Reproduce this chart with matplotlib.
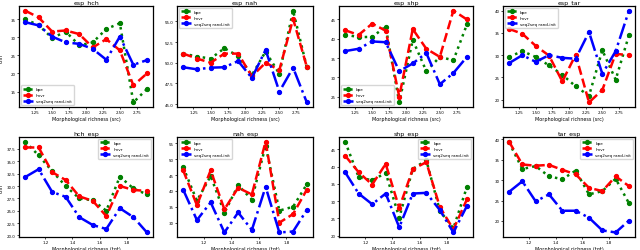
import numpy as np
import matplotlib
matplotlib.use('Agg')
import matplotlib.pyplot as plt
from matplotlib.ticker import MultipleLocator

# x values (morphological richness)
x_src = [1.1, 1.3, 1.5, 1.7, 1.9, 2.1, 2.3, 2.5, 2.7, 2.9]
x_tgt = [1.05, 1.15, 1.25, 1.35, 1.45, 1.55, 1.65, 1.75, 1.85, 1.95]

# esp -> X
esp_hch_bpe = [35.0, 33.4, 29.8, 31.6, 27.8, 28.6, 32.3, 33.9, 12.0, 15.7]
esp_hch_lmvr = [37.4, 35.5, 31.6, 31.9, 30.9, 27.2, 29.5, 26.4, 16.7, 20.0]
esp_hch_seq = [34.2, 33.3, 30.2, 28.6, 28.2, 26.8, 23.8, 30.2, 22.4, 23.7]

esp_nah_bpe = [51.1, 50.75, 50.5, 51.75, 50.8, 48.5, 51.35, 48.65, 56.3, 49.45]
esp_nah_lmvr = [51.1, 50.5, 50.0, 51.1, 51.1, 48.35, 50.0, 49.1, 55.3, 49.5]
esp_nah_seq = [49.45, 49.2, 49.4, 49.45, 50.2, 48.15, 51.55, 46.5, 49.4, 45.2]

esp_shp_bpe = [41.1, 40.4, 40.5, 43.1, 23.5, 39.7, 31.6, 35.3, 34.4, 43.7]
esp_shp_lmvr = [42.2, 41.0, 43.9, 42.1, 25.0, 42.5, 37.4, 35.3, 47.3, 45.0]
esp_shp_seq = [36.8, 37.4, 39.3, 39.1, 31.6, 33.6, 36.3, 28.2, 31.1, 35.3]

esp_tar_bpe = [29.6, 30.9, 29.6, 27.7, 25.6, 23.0, 20.9, 31.1, 24.5, 34.5]
esp_tar_lmvr = [35.9, 34.8, 32.1, 29.9, 24.1, 30.1, 19.4, 22.2, 30.3, 30.0]
esp_tar_seq = [28.2, 30.0, 28.5, 30.0, 29.4, 29.2, 35.2, 25.8, 30.9, 40.0]

# X -> esp
hch_esp_bpe = [39.0, 36.2, 33.0, 30.0, 27.5, 27.1, 25.0, 31.9, 29.5, 28.3]
hch_esp_lmvr = [37.8, 37.8, 32.8, 31.2, 27.9, 27.0, 23.9, 30.0, 29.2, 29.0]
hch_esp_seq = [31.8, 33.4, 28.8, 27.8, 23.7, 22.1, 21.3, 25.5, 23.7, 20.6]

nah_esp_bpe = [47.5, 36.9, 44.7, 33.1, 41.8, 37.3, 54.3, 33.8, 35.0, 42.1]
nah_esp_lmvr = [46.5, 35.5, 46.5, 34.2, 41.0, 38.9, 55.6, 30.0, 32.7, 40.4]
nah_esp_seq = [40.4, 30.8, 36.4, 26.9, 33.2, 27.7, 41.3, 26.9, 27.2, 34.0]

shp_esp_bpe = [47.3, 37.0, 36.0, 38.2, 25.2, 39.3, 41.9, 27.2, 22.1, 34.1]
shp_esp_lmvr = [43.2, 38.4, 34.8, 40.8, 28.0, 39.3, 41.3, 28.3, 21.8, 30.5]
shp_esp_seq = [38.4, 32.2, 29.1, 32.2, 22.4, 32.2, 32.4, 27.4, 20.9, 28.6]

tar_esp_bpe = [39.2, 32.7, 33.4, 30.9, 30.2, 32.3, 26.5, 27.3, 30.3, 24.3]
tar_esp_lmvr = [39.4, 33.8, 33.5, 33.7, 32.5, 31.4, 28.1, 27.3, 30.9, 28.5]
tar_esp_seq = [27.1, 29.7, 24.8, 26.5, 22.5, 22.5, 20.8, 17.7, 17.2, 20.1]

panels = [
    ('esp_hch', x_src, esp_hch_bpe, esp_hch_lmvr, esp_hch_seq, 'lower left'),
    ('esp_nah', x_src, esp_nah_bpe, esp_nah_lmvr, esp_nah_seq, 'upper left'),
    ('esp_shp', x_src, esp_shp_bpe, esp_shp_lmvr, esp_shp_seq, 'lower left'),
    ('esp_tar', x_src, esp_tar_bpe, esp_tar_lmvr, esp_tar_seq, 'upper left'),
    ('hch_esp', x_tgt, hch_esp_bpe, hch_esp_lmvr, hch_esp_seq, 'upper right'),
    ('nah_esp', x_tgt, nah_esp_bpe, nah_esp_lmvr, nah_esp_seq, 'upper left'),
    ('shp_esp', x_tgt, shp_esp_bpe, shp_esp_lmvr, shp_esp_seq, 'upper right'),
    ('tar_esp', x_tgt, tar_esp_bpe, tar_esp_lmvr, tar_esp_seq, 'upper right'),
]

# axes boxes in pixels (left, right) per column, (top, bottom) per row
cols = [(19, 153), (177, 313), (339, 473), (503, 635)]
rows = [(7, 108), (138, 238)]
W, H = 640.0, 251.0

fig = plt.figure(figsize=(6.4, 2.51), dpi=100)

for k, (title, x, bpe, lmvr, seq, loc) in enumerate(panels):
    l, r = cols[k % 4]
    t, b = rows[k // 4]
    ax = fig.add_axes([l / W, 1 - b / H, (r - l) / W, (b - t) / H])
    ax.plot(x, bpe, color='g', linestyle=':', marker='o', markersize=2.8, linewidth=1.8, label='bpe')
    ax.plot(x, lmvr, color='r', linestyle='--', marker='o', markersize=2.8, linewidth=1.8, label='lmvr')
    ax.plot(x, seq, color='b', linestyle='-.', marker='o', markersize=2.8, linewidth=1.8, label='seq2seq rand-init')
    ax.set_title(title, fontsize=4.5, pad=2)
    ax.tick_params(labelsize=2.9, length=1.5, width=0.5, pad=1)
    for s in ax.spines.values():
        s.set_linewidth(0.9)
    if title == 'esp_nah':
        ax.yaxis.set_major_locator(MultipleLocator(2.5))
    if k < 4:
        ax.set_xlabel('Morphological richness (src)', fontsize=3.5, labelpad=1)
    else:
        ax.set_xlabel('Morphological richness (tgt)', fontsize=3.5, labelpad=1)
    if k % 4 == 0:
        ax.set_ylabel('chrF', fontsize=3.5)
        ax.yaxis.set_label_coords(-15.5 / (r - l), 0.5)
    ax.legend(loc=loc, fontsize=3.0, handlelength=2.4, borderpad=0.4,
              labelspacing=0.5, framealpha=0.8)

plt.savefig('out.png', dpi=100)
